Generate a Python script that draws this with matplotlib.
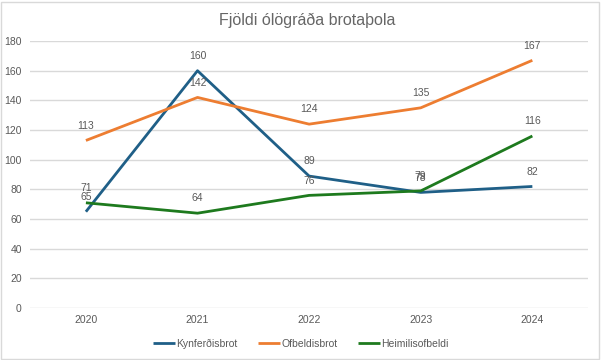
import matplotlib
matplotlib.use("Agg")
from matplotlib import pyplot as plt
from matplotlib.patches import Rectangle

years = ["2020", "2021", "2022", "2023", "2024"]
kynferdisbrot = [65, 160, 89, 78, 82]
ofbeldisbrot = [113, 142, 124, 135, 167]
heimilisofbeldi = [71, 64, 76, 79, 116]

series = [
    ("Kynferðisbrot", kynferdisbrot, "#1f5f87"),
    ("Ofbeldisbrot", ofbeldisbrot, "#ed7d31"),
    ("Heimilisofbeldi", heimilisofbeldi, "#1e7a1e"),
]

plt.rcParams["font.family"] = ["Liberation Sans", "DejaVu Sans"]
txt = "#595959"

fig = plt.figure(figsize=(6.02, 3.6), dpi=100)
ax = fig.add_axes([0.05, 0.144, 0.927, 0.742])

xs = list(range(len(years)))
for name, vals, col in series:
    ax.plot(xs, vals, color=col, lw=2.0, label=name, solid_capstyle="butt")
    for x, v in zip(xs, vals):
        ax.annotate(str(v), (x, v), xytext=(0, 7), textcoords="offset points",
                    ha="center", va="bottom", fontsize=7.5, color=txt)

ax.set_xlim(-0.5, len(years) - 0.5)
ax.set_ylim(0, 180)
ax.set_yticks(range(0, 181, 20))
ax.set_xticks(xs)
ax.set_xticklabels(years)
ax.tick_params(length=0, labelsize=7.5, labelcolor=txt)
ax.tick_params(axis="y", pad=6)
ax.tick_params(axis="x", pad=5)
ax.grid(axis="y", color="#d9d9d9", lw=1)
ax.set_axisbelow(True)
for s in ax.spines.values():
    s.set_visible(False)

fig.suptitle("Fjöldi ólögráða brotaþola", x=0.51, y=0.965, fontsize=11.5, color="#666666")

fig.legend(loc="center", bbox_to_anchor=(0.5, 0.045), ncol=3, frameon=False,
           fontsize=7.5, labelcolor=txt, handlelength=2.1, handletextpad=0.1,
           columnspacing=2.0)

fig.patches.append(Rectangle((0.002, 0.004), 0.993, 0.99, transform=fig.transFigure,
                             fill=False, edgecolor="#d9d9d9", lw=1))

fig.savefig("out.png", dpi=100)
